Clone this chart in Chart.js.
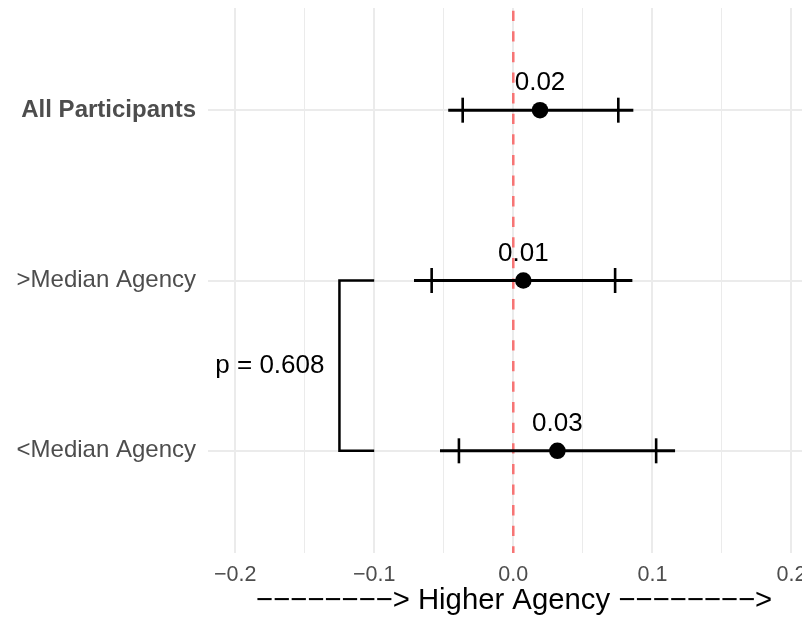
<!DOCTYPE html>
<html>
<head>
<meta charset="utf-8">
<script src="https://cdn.jsdelivr.net/npm/chart.js@4/dist/chart.umd.min.js"></script>
<style>
  html, body { margin: 0; padding: 0; overflow: hidden; background: #ffffff; }
  #wrap { width: 830px; height: 624px; position: relative; }
</style>
</head>
<body>
<div id="wrap"><canvas id="chart"></canvas></div>
<script>
// Groups, top to bottom
const categories = ['All Participants', '>Median Agency', '<Median Agency'];
// Point estimates
const estimates = [0.0192, 0.0072, 0.0317];
// Outer interval (whisker line)
const ciLower = [-0.0468, -0.0714, -0.0527];
const ciUpper = [0.0863, 0.0856, 0.1163];
// Inner interval (tick marks on the whisker)
const innerLower = [-0.0364, -0.0587, -0.0391];
const innerUpper = [0.0755, 0.0732, 0.1027];
// Subgroup comparison
const comparisonGroups = ['>Median Agency', '<Median Agency'];
const comparisonP = 0.608;
const bracketX = -0.125;
const bracketArmX = -0.1;
const pLabelX = -0.175;
// X axis ticks
const xMajorTicks = [-0.2, -0.1, 0, 0.1, 0.2];
const xMinorTicks = [-0.15, -0.05, 0.05, 0.15];
const xTickLabels = ['\u22120.2', '\u22120.1', '0.0', '0.1', '0.2'];
const xTitle = '\u2212\u2212\u2212\u2212\u2212\u2212\u2212\u2212> Higher Agency \u2212\u2212\u2212\u2212\u2212\u2212\u2212\u2212>';

const FONT = "'Liberation Sans', Arial, Helvetica, sans-serif";
const GRID = '#EBEBEB';
const AXIS_TEXT = '#4D4D4D';

const rowOf = (name) => categories.length - categories.indexOf(name);
const rows = categories.map(rowOf);

const isMajor = (v) => xMajorTicks.some(m => Math.abs(m - v) < 1e-9);

// One whisker line per group
const whiskerSets = categories.map((c, i) => ({
  data: [{ x: ciLower[i], y: rows[i] }, { x: ciUpper[i], y: rows[i] }],
  showLine: true,
  borderColor: '#000000',
  borderWidth: 3,
  pointRadius: 0,
  order: 3
}));

const tickMarks = {
  data: categories.flatMap((c, i) => [
    { x: innerLower[i], y: rows[i] },
    { x: innerUpper[i], y: rows[i] }
  ]),
  showLine: false,
  pointStyle: 'line',
  rotation: 90,
  pointRadius: 12.5,
  borderColor: '#000000',
  borderWidth: 2.6,
  order: 2
};

const pointSet = {
  data: categories.map((c, i) => ({ x: estimates[i], y: rows[i] })),
  showLine: false,
  pointRadius: 8.3,
  backgroundColor: '#000000',
  borderWidth: 0,
  order: 1
};

const yA = rowOf(comparisonGroups[0]);
const yB = rowOf(comparisonGroups[1]);
const bracketSet = {
  data: [
    { x: bracketArmX, y: yA }, { x: bracketX, y: yA },
    { x: bracketX, y: yB }, { x: bracketArmX, y: yB }
  ],
  showLine: true,
  borderColor: '#000000',
  borderWidth: 2.5,
  pointRadius: 0,
  order: 4
};

// Dashed reference line at zero, under the marks
const zeroLine = {
  id: 'zeroLine',
  beforeDatasetsDraw(chart) {
    const { ctx, chartArea, scales } = chart;
    const x = scales.x.getPixelForValue(0);
    ctx.save();
    ctx.strokeStyle = 'rgba(255, 0, 0, 0.5)';
    ctx.lineWidth = 2.6;
    ctx.setLineDash([10.3, 10.3]);
    ctx.lineDashOffset = 17.9;
    ctx.beginPath();
    ctx.moveTo(x, chartArea.top);
    ctx.lineTo(x, chartArea.bottom);
    ctx.stroke();
    ctx.restore();
  }
};

// Value labels above the points and the p-value beside the bracket
const textLabels = {
  id: 'textLabels',
  afterDatasetsDraw(chart) {
    const { ctx, scales } = chart;
    ctx.save();
    ctx.fillStyle = '#000000';
    ctx.font = '26px ' + FONT;
    ctx.textAlign = 'center';
    ctx.textBaseline = 'middle';
    categories.forEach((c, i) => {
      const px = scales.x.getPixelForValue(estimates[i]);
      const py = scales.y.getPixelForValue(rows[i]);
      ctx.fillText(estimates[i].toFixed(2), px, py - 27);
    });
    const lx = scales.x.getPixelForValue(pLabelX);
    const ly = scales.y.getPixelForValue((yA + yB) / 2);
    ctx.fillText('p = ' + comparisonP.toFixed(3), lx, ly);
    ctx.restore();
  }
};

const noEdgePadding = (scale) => {
  scale.paddingTop = 0;
  scale.paddingBottom = 0;
  scale.paddingLeft = 0;
  scale.paddingRight = 0;
};

new Chart(document.getElementById('chart'), {
  type: 'scatter',
  data: { datasets: [pointSet, tickMarks, ...whiskerSets, bracketSet] },
  plugins: [zeroLine, textLabels],
  options: {
    responsive: true,
    maintainAspectRatio: false,
    animation: false,
    layout: { autoPadding: false, padding: { top: 8, right: 10, bottom: 0, left: 0 } },
    plugins: { legend: { display: false }, tooltip: { enabled: false } },
    scales: {
      x: {
        type: 'linear',
        min: -0.2195,
        max: 0.2205,
        afterBuildTicks(scale) {
          scale.ticks = [...xMajorTicks, ...xMinorTicks].sort((a, b) => a - b).map(v => ({ value: v }));
        },
        afterFit(scale) { scale.height = 71; noEdgePadding(scale); },
        grid: {
          color: GRID,
          lineWidth: (ctx) => (ctx.tick && isMajor(ctx.tick.value)) ? 2 : 1,
          drawTicks: false
        },
        border: { display: false },
        ticks: {
          padding: 9,
          color: AXIS_TEXT,
          font: { family: FONT, size: 21.5 },
          maxRotation: 0,
          autoSkip: false,
          callback(v) {
            const k = xMajorTicks.findIndex(m => Math.abs(m - v) < 1e-9);
            return k >= 0 ? xTickLabels[k] : '';
          }
        },
        title: {
          display: true,
          text: xTitle,
          color: '#000000',
          font: { family: FONT, size: 29.3 },
          padding: { top: 0, bottom: 5.6 }
        }
      },
      y: {
        type: 'linear',
        min: 0.4,
        max: 3.6,
        afterBuildTicks(scale) {
          scale.ticks = rows.slice().sort((a, b) => a - b).map(v => ({ value: v }));
        },
        afterFit(scale) { scale.width = 208; noEdgePadding(scale); },
        grid: { color: GRID, lineWidth: 2, drawTicks: false },
        border: { display: false },
        ticks: {
          padding: 12,
          color: AXIS_TEXT,
          autoSkip: false,
          font: (ctx) => {
            const v = ctx.tick ? ctx.tick.value : null;
            const name = categories[categories.length - v];
            return { family: FONT, size: 24, weight: name === 'All Participants' ? 'bold' : 'normal' };
          },
          callback(v) { return categories[categories.length - v]; }
        }
      }
    }
  }
});
</script>
</body>
</html>
